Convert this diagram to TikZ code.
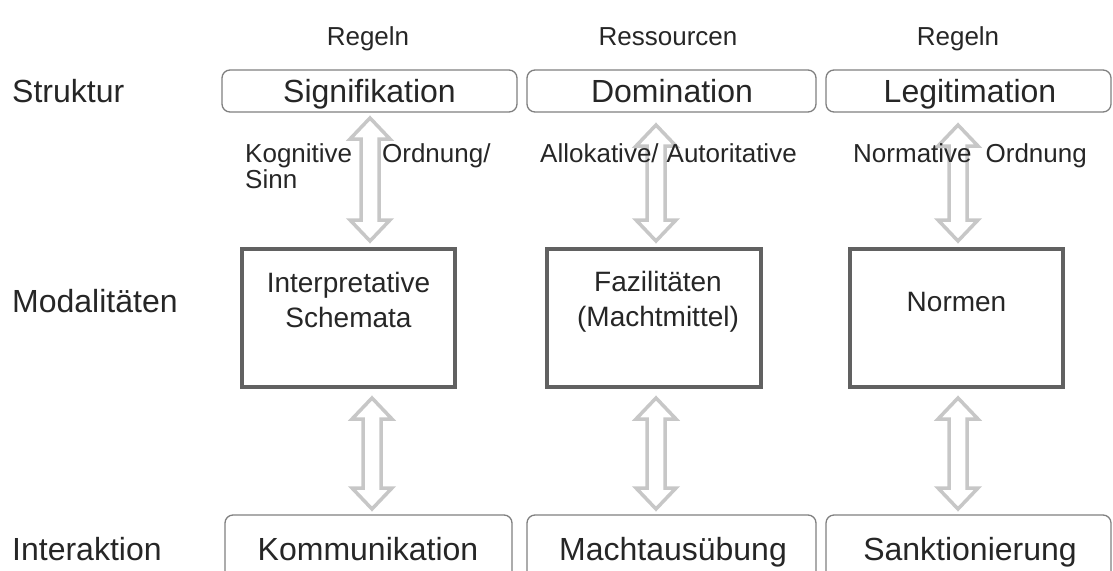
\documentclass[tikz,border=0pt]{standalone}
\usepackage{fontspec}
\setmainfont{Liberation Sans}
\begin{document}
\begin{tikzpicture}[x=1pt,y=-1pt,
  big/.style={font=\fontsize{32}{36}\selectfont, text=black!85, inner sep=0pt},
  rowlabel/.style={font=\fontsize{32}{36}\selectfont, text=black!85, inner sep=0pt, anchor=base west},
  mid/.style={font=\fontsize{28}{35}\selectfont, text=black!85, inner sep=0pt, align=center},
  small/.style={font=\fontsize{26}{27}\selectfont, text=black!85, inner sep=0pt},
  roundbox/.style={draw=black!50, line width=1.3pt, rounded corners=8pt, fill=white},
  modbox/.style={draw=black!62, line width=4.5pt, fill=white},
  dblarrow/.style={draw=black!22, line width=3.5pt, fill=white, line join=miter}
]
\useasboundingbox (0,0) rectangle (1113,570);
\clip (0,0) rectangle (1113,570);

% up-down block arrow: centre x, top tip, bottom tip
\newcommand{\updown}[3]{%
  \path[dblarrow] (#1,#2) -- ++(20,21) -- ++(-11,0) -- (#1+9,#3-21) -- ++(11,0)
    -- (#1,#3) -- ++(-20,-21) -- ++(11,0) -- (#1-9,#2+21) -- ++(-11,0) -- cycle;}

% row labels
\node[rowlabel] (lstr) at (12,102) {Struktur};
\node[rowlabel] (lmod) at (12,312) {Modalitäten};
\node[rowlabel] (lint) at (12,560) {Interaktion};

% headings
\node[small, anchor=base] (h1) at (368,45) {Regeln};
\node[small, anchor=base] (h2) at (668,45) {Ressourcen};
\node[small, anchor=base] (h3) at (958,45) {Regeln};

% structure row
\draw[roundbox] (222,70) rectangle (517,112);
\draw[roundbox] (527,70) rectangle (816,112);
\draw[roundbox] (826,70) rectangle (1111,112);
\node[big, anchor=base] (s1) at (369.5,102) {Signifikation};
\node[big, anchor=base] (s2) at (672,102) {Domination};
\node[big, anchor=base] (s3) at (970,102) {Legitimation};

% modality row
\draw[modbox] (242,249) rectangle (455,387);
\draw[modbox] (547,249) rectangle (761,387);
\draw[modbox] (850,249) rectangle (1063,387);
\node[mid] (m1) at (348.5,300) {Interpretative\\Schemata};
\node[mid] (m2) at (658,302) {Fazilitäten\\(Machtmittel)};
\node[mid] (m3) at (956.5,302) {Normen};

% interaction row
\draw[roundbox] (225,515) rectangle (512,585);
\draw[roundbox] (527,515) rectangle (816,585);
\draw[roundbox] (826,515) rectangle (1111,585);
\node[big, anchor=base] (i1) at (368,560) {Kommunikation};
\node[big, anchor=base] (i2) at (673,560) {Machtausübung};
\node[big, anchor=base] (i3) at (970,560) {Sanktionierung};

% arrows between the rows
\updown{370}{118}{241}
\updown{656}{125}{241}
\updown{958}{125}{241}
\updown{372}{398}{509}
\updown{656}{398}{509}
\updown{958}{398}{509}

% arrow labels
\node[small, anchor=base west] (k1) at (245,162) {Kognitive\hspace{30pt}Ordnung/};
\node[small, anchor=base west] (k2) at (245,188) {Sinn};
\node[small, anchor=base west] (a1) at (540,162) {Allokative/\hspace{8pt}Autoritative};
\node[small, anchor=base west] (n1) at (853,162) {Normative\hspace{14pt}Ordnung};
\end{tikzpicture}
\end{document}
